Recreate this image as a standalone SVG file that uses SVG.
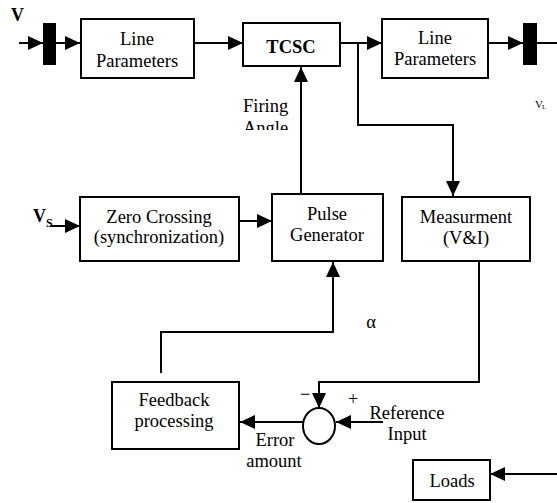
<svg xmlns="http://www.w3.org/2000/svg" width="557" height="503" viewBox="0 0 557 503">
<defs>
<marker id="ah" markerUnits="userSpaceOnUse" markerWidth="16" markerHeight="14" refX="15" refY="7" orient="auto">
<path d="M0,0 L15,7 L0,14 z" fill="#000"/>
</marker>
<clipPath id="fclip"><rect x="230" y="90" width="70" height="40"/></clipPath>
</defs>
<style>
.box{fill:#fff;stroke:#000;stroke-width:2}
.bar{fill:#000}
.t{font-family:"Liberation Serif","Times New Roman",serif;font-size:18.5px;fill:#000;text-anchor:middle}
.tl{font-family:"Liberation Serif","Times New Roman",serif;font-size:18.5px;fill:#000}
.b{font-weight:bold}
.c{fill:none;stroke:#000;stroke-width:2}
.a{marker-end:url(#ah)}
</style>
<rect width="557" height="503" fill="#fff"/>
<g id="connectors">
<line class="c a" x1="19" y1="43" x2="43" y2="43"/>
<line class="c a" x1="56" y1="43" x2="80" y2="43"/>
<line class="c a" x1="194" y1="43" x2="243" y2="43"/>
<line class="c a" x1="340" y1="43" x2="382" y2="43"/>
<line class="c a" x1="488" y1="43" x2="523" y2="43"/>
<line class="c" x1="537" y1="43" x2="557" y2="43"/>
<polyline class="c a" points="358,43 358,125 453,125 453,196"/>
<line class="c a" x1="301" y1="194" x2="301" y2="67"/>
<line class="c a" x1="50" y1="226" x2="80" y2="226"/>
<line class="c a" x1="239" y1="221" x2="272" y2="221"/>
<polyline class="c a" points="479,261 479,382 319,382 319,408"/>
<line class="c a" x1="383" y1="422" x2="336" y2="422"/>
<line class="c a" x1="303" y1="422" x2="240" y2="422"/>
<polyline class="c a" points="161,373 161,332 333,332 333,262"/>
<line class="c a" x1="557" y1="474" x2="490" y2="474"/>
</g>
<g id="bus-in"><rect class="bar" x="43" y="23" width="13" height="42"/></g>
<g id="bus-out"><rect class="bar" x="523" y="23" width="14" height="42"/></g>
<g id="line-params-1">
<rect class="box" x="81" y="19" width="113" height="59"/>
<text class="t" x="137" y="45">Line</text>
<text class="t" x="137" y="67">Parameters</text>
</g>
<g id="tcsc">
<rect class="box" x="243" y="23" width="97" height="43"/>
<text class="t b" x="291" y="53">TCSC</text>
</g>
<g id="line-params-2">
<rect class="box" x="382" y="19" width="106" height="59"/>
<text class="t" x="435" y="44">Line</text>
<text class="t" x="435" y="65">Parameters</text>
</g>
<g id="zero-crossing">
<rect class="box" x="80" y="197" width="159" height="64"/>
<text class="t" x="159" y="223">Zero Crossing</text>
<text class="t" x="159" y="243">(synchronization)</text>
</g>
<g id="pulse-generator">
<rect class="box" x="272" y="194" width="111" height="67"/>
<text class="t" x="327" y="220">Pulse</text>
<text class="t" x="327" y="241">Generator</text>
</g>
<g id="measurement">
<rect class="box" x="402" y="197" width="128" height="64"/>
<text class="t" x="466" y="223">Measurment</text>
<text class="t" x="466" y="244">(V&amp;I)</text>
</g>
<g id="feedback">
<rect class="box" x="112" y="382" width="127" height="67"/>
<text class="t" x="174" y="406">Feedback</text>
<text class="t" x="174" y="427">processing</text>
</g>
<g id="summer">
<ellipse class="c" cx="319" cy="426" rx="16" ry="18"/>
<text class="t" x="305" y="400" style="font-size:18px">−</text>
<text class="t" x="353" y="405" style="font-size:18px">+</text>
</g>
<g id="loads">
<rect class="box" x="413" y="460" width="77" height="40"/>
<text class="t" x="452" y="487">Loads</text>
</g>
<g id="labels">
<text class="tl b" x="11" y="21" style="font-size:18px">V</text>
<text class="tl b" x="33" y="222" style="font-size:18px">V</text>
<text class="tl b" x="46" y="227" style="font-size:12px">S</text>
<text class="tl" x="535" y="108" style="font-size:11px">V</text>
<text class="tl" x="542" y="109" style="font-size:7px">L</text>
<g clip-path="url(#fclip)">
<text class="tl" x="243" y="112">Firing</text>
<text class="tl" x="243" y="134">Angle</text>
</g>
<text class="t" x="371" y="328">α</text>
<text class="t" x="275" y="446">Error</text>
<text class="t" x="274" y="467">amount</text>
<text class="t" x="407" y="419">Reference</text>
<text class="t" x="407" y="440">Input</text>
</g>
</svg>
